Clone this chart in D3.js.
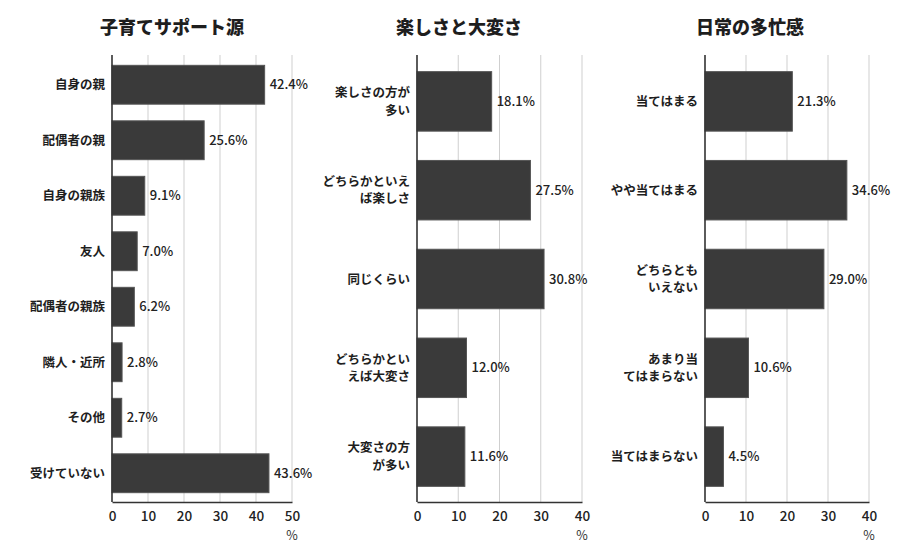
<!DOCTYPE html>
<html>
<head>
<meta charset="utf-8">
<script src="https://cdn.jsdelivr.net/npm/d3@7"></script>
<style>
  body { margin: 0; background: #fff; }
  svg { font-family: "Noto Sans CJK JP", "Noto Sans", sans-serif; }
</style>
</head>
<body>
<div id="chart"></div>
<script>
// data
var supportLabels = ["自身の親", "配偶者の親", "自身の親族", "友人", "配偶者の親族", "隣人・近所", "その他", "受けていない"];
var supportValues = [42.4, 25.6, 9.1, 7.0, 6.2, 2.8, 2.7, 43.6];
var supportTicks = [0, 10, 20, 30, 40, 50];

var joyLabels = ["楽しさの方が\n多い", "どちらかといえ\nば楽しさ", "同じくらい", "どちらかとい\nえば大変さ", "大変さの方\nが多い"];
var joyValues = [18.1, 27.5, 30.8, 12.0, 11.6];
var joyTicks = [0, 10, 20, 30, 40];

var busyLabels = ["当てはまる", "やや当てはまる", "どちらとも\nいえない", "あまり当\nてはまらない", "当てはまらない"];
var busyValues = [21.3, 34.6, 29.0, 10.6, 4.5];
var busyTicks = [0, 10, 20, 30, 40];

var titles = ["子育てサポート源", "楽しさと大変さ", "日常の多忙感"];

var areaWidth = 899, areaHeight = 555;
var svg = d3.select("#chart").append("svg")
  .attr("width", areaWidth).attr("height", areaHeight);

// one panel = one horizontal bar chart
function drawPanel(cfg) {
  var x = d3.scaleLinear().domain([0, cfg.ticks[cfg.ticks.length - 1]]).range([cfg.x0, cfg.x1]);
  var y = d3.scaleBand().domain(cfg.labels).range([57, 501]).paddingInner(cfg.pad).paddingOuter(cfg.pad / 2);
  var g = svg.append("g");

  g.append("text")
    .attr("x", cfg.titleX).attr("y", 34)
    .attr("text-anchor", "middle")
    .style("font-size", "18px").style("font-weight", "900").style("fill", "#1e1e1e")
    .text(cfg.title);

  // grid
  g.selectAll("line.grid")
    .data(cfg.ticks.slice(1))
    .enter().append("line")
    .attr("class", "grid")
    .attr("x1", function (d) { return x(d); })
    .attr("x2", function (d) { return x(d); })
    .attr("y1", 55).attr("y2", 502)
    .style("stroke", "#cfcfcf").style("stroke-width", 1);

  g.selectAll("rect")
    .data(cfg.values)
    .enter().append("rect")
    .attr("x", x(0))
    .attr("y", function (d, i) { return y(cfg.labels[i]); })
    .attr("width", function (d) { return x(d) - x(0); })
    .attr("height", y.bandwidth())
    .style("fill", "#3a3a3a")
    .style("stroke", "#555").style("stroke-width", 1);

  g.selectAll("text.val")
    .data(cfg.values)
    .enter().append("text")
    .attr("class", "val")
    .attr("x", function (d) { return x(d) + 5; })
    .attr("y", function (d, i) { return y(cfg.labels[i]) + y.bandwidth() / 2; })
    .attr("dy", "0.36em")
    .style("font-size", "13px").style("font-weight", "500").style("fill", "#222")
    .text(function (d) { return d.toFixed(1) + "%"; });

  // category labels (may be two lines, one text per line)
  cfg.labels.forEach(function (lab) {
    var lines = lab.split("\n");
    var cy = y(lab) + y.bandwidth() / 2;
    lines.forEach(function (ln, k) {
      g.append("text")
        .attr("text-anchor", "end")
        .attr("x", x(0) - 7)
        .attr("y", cy + (k - (lines.length - 1) / 2) * 17.5)
        .attr("dy", "0.36em")
        .style("font-size", "12.5px").style("font-weight", "bold").style("fill", "#1e1e1e")
        .text(ln);
    });
  });

  // axes
  var ax = g.append("g")
    .attr("transform", "translate(0,502)")
    .call(d3.axisBottom(x).tickValues(cfg.ticks).tickSize(0).tickPadding(9));
  ax.select(".domain").style("stroke", "#333").style("stroke-width", 1.6);
  ax.selectAll("text")
    .style("font-size", "13.5px").style("font-weight", "500").style("fill", "#222")
    .style("font-family", "'Noto Sans CJK JP', sans-serif");

  g.append("line")
    .attr("x1", x(0)).attr("x2", x(0))
    .attr("y1", 55).attr("y2", 502)
    .style("stroke", "#333").style("stroke-width", 1.6);

  g.append("text")
    .attr("x", cfg.x1).attr("y", 540)
    .attr("text-anchor", "middle")
    .style("font-size", "12.5px").style("fill", "#333")
    .text("%");
}

drawPanel({ title: titles[0], titleX: 172, labels: supportLabels, values: supportValues, ticks: supportTicks, x0: 112, x1: 292, pad: 0.3 });
drawPanel({ title: titles[1], titleX: 459, labels: joyLabels, values: joyValues, ticks: joyTicks, x0: 417, x1: 582, pad: 0.33 });
drawPanel({ title: titles[2], titleX: 750, labels: busyLabels, values: busyValues, ticks: busyTicks, x0: 705, x1: 869, pad: 0.33 });
</script>
</body>
</html>
